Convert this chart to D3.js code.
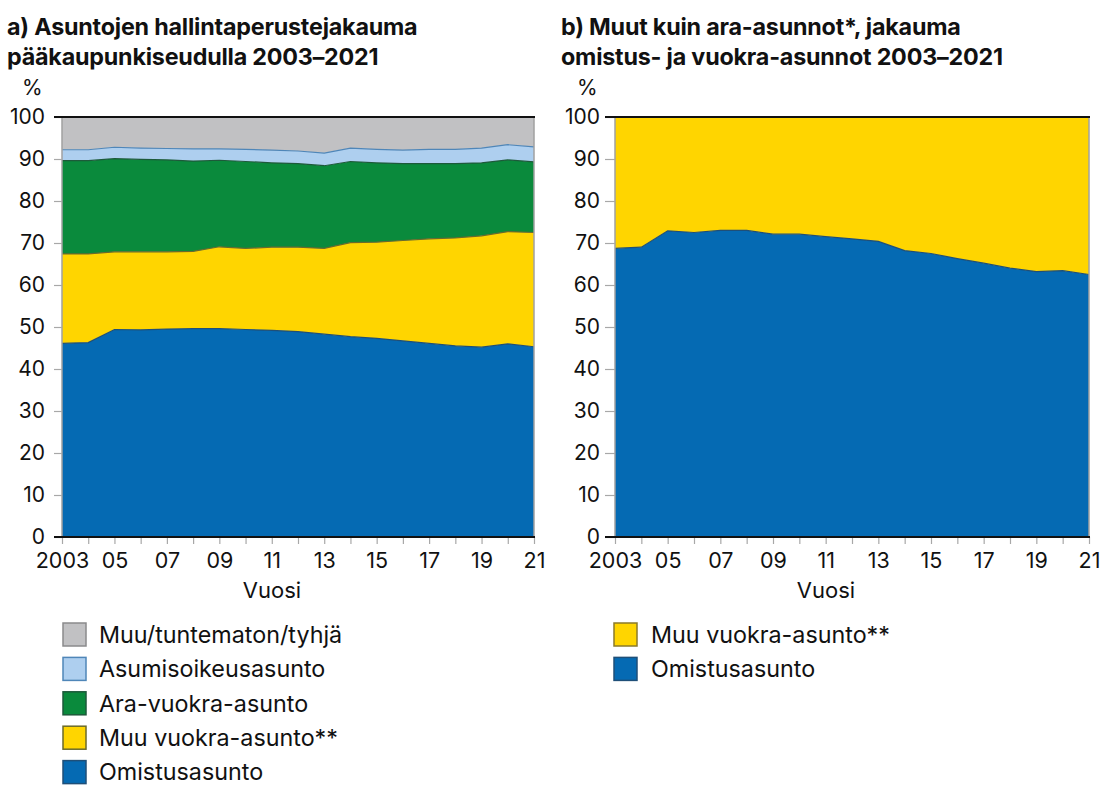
<!DOCTYPE html>
<html><head><meta charset="utf-8">
<script src="https://cdn.jsdelivr.net/npm/d3@7"></script>
<style>
body{margin:0;background:#fff;}
svg{display:block;font-family:Inter,"Noto Sans",sans-serif;}
</style></head>
<body>
<svg id="c" width="1100" height="785"></svg>
<script>
const years = d3.range(2003, 2022);
const yTicks = [0,10,20,30,40,50,60,70,80,90,100];
const xTickLabels = ["2003","05","07","09","11","13","15","17","19","21"];

// Chart a
const omistusA = [46.1,46.3,49.4,49.3,49.5,49.6,49.6,49.4,49.2,48.9,48.3,47.7,47.3,46.7,46.1,45.5,45.2,46.0,45.3];
const muuVuokraA = [21.3,21.1,18.5,18.6,18.4,18.4,19.5,19.3,19.8,20.1,20.4,22.4,22.9,23.9,24.9,25.7,26.5,26.7,27.2];
const araVuokraA = [22.2,22.2,22.2,22.0,21.9,21.5,20.6,20.7,20.1,19.9,19.7,19.3,18.9,18.3,17.9,17.7,17.4,17.1,16.8];
const asumisoikeusA = [2.6,2.6,2.7,2.7,2.7,2.9,2.7,2.9,3.0,3.0,3.0,3.2,3.2,3.2,3.4,3.4,3.5,3.6,3.6];
const muuTuntematonA = [7.8,7.8,7.2,7.4,7.5,7.6,7.6,7.7,7.9,8.1,8.6,7.4,7.7,7.9,7.7,7.7,7.4,6.6,7.1];

// Chart b
const omistusB = [68.7,69.0,72.9,72.5,73.0,73.0,72.1,72.1,71.5,71.0,70.4,68.2,67.5,66.3,65.2,64.0,63.2,63.4,62.5];
const muuVuokraB = [31.3,31.0,27.1,27.5,27.0,27.0,27.9,27.9,28.5,29.0,29.6,31.8,32.5,33.7,34.8,36.0,36.8,36.6,37.5];

const seriesA = [
  {key:"Omistusasunto", values:omistusA, fill:"#056ab3", stroke:"#1f4f78"},
  {key:"Muu vuokra-asunto**", values:muuVuokraA, fill:"#ffd500", stroke:"#6b6a2a"},
  {key:"Ara-vuokra-asunto", values:araVuokraA, fill:"#0a8a3c", stroke:"#1d5a3a"},
  {key:"Asumisoikeusasunto", values:asumisoikeusA, fill:"#aecfef", stroke:"#4f86b8"},
  {key:"Muu/tuntematon/tyhjä", values:muuTuntematonA, fill:"#c1c1c3", stroke:"#8a8a8c"}
];
const seriesB = [
  {key:"Omistusasunto", values:omistusB, fill:"#056ab3", stroke:"#1f4f78"},
  {key:"Muu vuokra-asunto**", values:muuVuokraB, fill:"#ffd500", stroke:"#8a7a2a"}
];

const svg = d3.select("#c");

function drawChart(cfg){
  const {x0, x1, y0, y1, series, title, tickStart, pctX, legendX, legendTextX} = cfg;
  const g = svg.append("g");
  const x = d3.scaleLinear().domain([2003, 2021]).range([x0, x1]);
  const y = d3.scaleLinear().domain([0, 100]).range([y0, y1]);

  const t = g.append("text").attr("font-weight","bold").attr("font-size",23.3).attr("fill","#111")
    .attr("letter-spacing",-0.2);
  title.forEach((line,i)=>{
    t.append("tspan").attr("x", cfg.titleX).attr("y", 35 + i*29.5).text(line);
  });
  g.append("text").attr("x", pctX).attr("y", 95).attr("font-size",21).attr("fill","#111").text("%");

  const keys = series.map(s=>s.key);
  const rows = years.map((yr,i)=>{ const o={year:yr}; series.forEach(s=>o[s.key]=s.values[i]); return o; });
  const stacked = d3.stack().keys(keys)(rows);
  const area = d3.area().x(d=>x(d.data.year)).y0(d=>y(d[0])).y1(d=>y(Math.min(100,d[1])));
  const line = d3.line().x(d=>x(d.data.year)).y(d=>y(Math.min(100,d[1])));

  stacked.forEach((layer,i)=>{
    const s = series[i];
    const data = layer.map(d=>d);
    if (i === stacked.length-1) data.forEach(d=>d[1]=100);
    g.append("path").datum(data).attr("d", area).attr("fill", s.fill);
  });
  stacked.forEach((layer,i)=>{
    if (i === stacked.length-1) return;
    g.append("path").datum(layer).attr("d", line).attr("fill","none")
      .attr("stroke", series[i].stroke).attr("stroke-width",1.2);
  });

  g.append("line").attr("x1",x0).attr("x2",x0).attr("y1",y(100)).attr("y2",y(0)).attr("stroke","#a0a0a0").attr("stroke-width",1.5);
  g.append("line").attr("x1",x1).attr("x2",x1).attr("y1",y(100)).attr("y2",y(0)).attr("stroke","#a0a0a0").attr("stroke-width",1.5);

  const yAxis = d3.axisLeft(y).tickValues(yTicks).tickSize(x0 - tickStart).tickPadding(cfg.tickPad).tickFormat(d3.format("d"));
  const ya = g.append("g").attr("transform",`translate(${x0},0)`).call(yAxis);
  ya.select(".domain").remove();
  ya.selectAll(".tick line").attr("stroke","#a8a8a8").attr("stroke-width",1.2);
  ya.selectAll(".tick text").attr("font-size",21).attr("fill","#111").attr("font-family","Inter,sans-serif");

  const xAxis = d3.axisBottom(x).tickValues(years).tickSize(7).tickPadding(9)
    .tickFormat(d => { const idx = (d-2003)/2; return Number.isInteger(idx) ? xTickLabels[idx] : ""; });
  const xa = g.append("g").attr("transform",`translate(0,${y0})`).call(xAxis);
  xa.select(".domain").remove();
  xa.selectAll(".tick line").attr("stroke","#a8a8a8").attr("stroke-width",1.2);
  xa.selectAll(".tick text").attr("font-size",21.5).attr("fill","#111").attr("font-family","Inter,sans-serif");

  g.append("line").attr("x1",tickStart).attr("x2",x1+1).attr("y1",y(100)).attr("y2",y(100)).attr("stroke","#111").attr("stroke-width",2.2);
  g.append("line").attr("x1",tickStart).attr("x2",x1+1).attr("y1",y(0)).attr("y2",y(0)).attr("stroke","#111").attr("stroke-width",2.2);

  g.append("text").attr("x",(x0+x1)/2 - 26).attr("y",598).attr("text-anchor","middle").attr("font-size",22).attr("fill","#111").text("Vuosi");

  const leg = series.slice().reverse();
  leg.forEach((s,i)=>{
    const cy = 634.5 + i*34.4;
    g.append("rect").attr("x",legendX).attr("y",cy-11.5).attr("width",23).attr("height",23)
      .attr("fill",s.fill).attr("stroke",s.stroke).attr("stroke-width",1.5);
    g.append("text").attr("x",legendTextX).attr("y",cy+8.3).attr("font-size",23.3).attr("fill","#111").text(s.key);
  });
}

drawChart({x0:62, x1:534, y0:537, y1:117, series:seriesA,
  title:["a) Asuntojen hallintaperustejakauma","pääkaupunkiseudulla 2003–2021"],
  titleX:7, tickStart:54, tickPad:9, pctX:22, legendX:63, legendTextX:99});
drawChart({x0:615, x1:1089, y0:537, y1:117, series:seriesB,
  title:["b) Muut kuin ara-asunnot*, jakauma","omistus- ja vuokra-asunnot 2003–2021"],
  titleX:561, tickStart:605, tickPad:5, pctX:577, legendX:614, legendTextX:651});
</script>
</body></html>
